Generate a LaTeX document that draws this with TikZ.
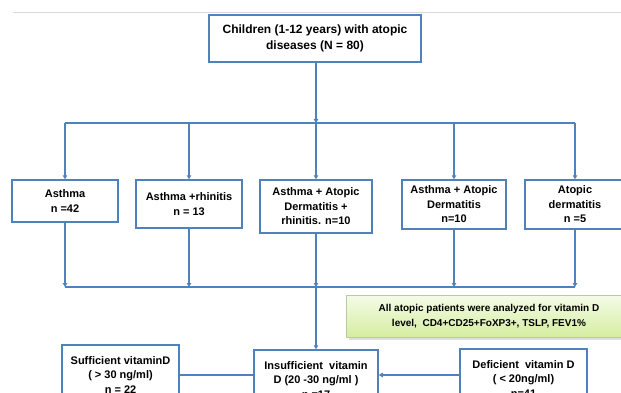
\documentclass[tikz,border=0pt]{standalone}
\usepackage{fontspec}
\setmainfont{Liberation Sans}
\usetikzlibrary{arrows.meta,shadows}
\definecolor{boxblue}{RGB}{79,129,189}
\definecolor{lightgreen}{RGB}{245,251,232}
\definecolor{midgreen}{RGB}{213,238,160}
\definecolor{notegray}{RGB}{185,200,165}

\begin{document}
\begin{tikzpicture}[x=1pt,y=-1pt,
 box/.style={draw=boxblue,line width=1.5pt,fill=white,align=center,inner sep=2pt,font=\bfseries\fontsize{11}{14.5}\selectfont},
 arr/.style={boxblue,line width=1.5pt,-{Triangle[length=4pt,width=4.5pt]}},
 lin/.style={boxblue,line width=1.5pt}]
\useasboundingbox (0,0) rectangle (621,393);
\clip (0,0) rectangle (621,393);
\fill[white] (0,0) rectangle (621,393);
\draw[black!15,line width=1pt] (13,13) -- (621,13);
\node[box,minimum width=212pt,minimum height=47pt,font=\bfseries\fontsize{12}{16}\selectfont] (top) at (315,38.5) {Children (1-12 years) with atopic\\diseases (N = 80)};
\node[box,minimum width=106pt,minimum height=42pt] (asthma) at (65,201) {Asthma\\n =42};
\node[box,minimum width=106pt,minimum height=48pt] (rhin) at (189,204) {Asthma +rhinitis\\n = 13};
\node[box,minimum width=112pt,minimum height=53pt] (adr) at (316,206.5) {Asthma + Atopic\\Dermatitis +\\rhinitis. n=10};
\node[box,minimum width=104pt,minimum height=49pt] (ad) at (454,204.5) {Asthma + Atopic\\Dermatitis\\n=10};
\node[box,minimum width=100pt,minimum height=49pt] (atd) at (575,204.5) {Atopic\\dermatitis\\n =5};
\coordinate (busA) at (316,123);
\coordinate (busB) at (316,287);
\draw[arr] (top.south -| busA) -- (busA);
\draw[lin] (asthma.north |- busA) -- (atd.north |- busA);
\foreach \n in {asthma,rhin,adr,ad,atd} \draw[arr] (\n.north |- busA) -- (\n.north);
\foreach \n in {asthma,rhin,adr,ad,atd} \draw[arr] (\n.south) -- (\n.south |- busB);
\draw[lin] (asthma.south |- busB) -- (atd.south |- busB);
\node[draw=notegray,top color=lightgreen,bottom color=midgreen,drop shadow={opacity=0.25},minimum width=286pt,minimum height=42pt,align=center,font=\bfseries\fontsize{10}{15}\selectfont] (note) at (489,316) {All atopic patients were analyzed for vitamin D\\level,\ \ CD4+CD25+FoXP3+, TSLP, FEV1\%};
\node[box,minimum width=117pt,minimum height=60pt] (suff) at (120.5,375) {Sufficient vitaminD\\( > 30 ng/ml)\\n = 22};
\node[box,minimum width=124pt,minimum height=60pt] (insuff) at (316,380) {Insufficient\ \ vitamin\\D (20 -30 ng/ml )\\n =17};
\node[box,minimum width=127pt,minimum height=60pt] (defi) at (523.5,379) {Deficient\ \ vitamin D\\( < 20ng/ml)\\n=41};
\draw[arr] (busB) -- (insuff.north);
\draw[lin] (suff.east) -- (suff.east -| insuff.west);
\draw[arr] (defi.west |- suff.east) -- (insuff.east |- suff.east);
\end{tikzpicture}
\end{document}
